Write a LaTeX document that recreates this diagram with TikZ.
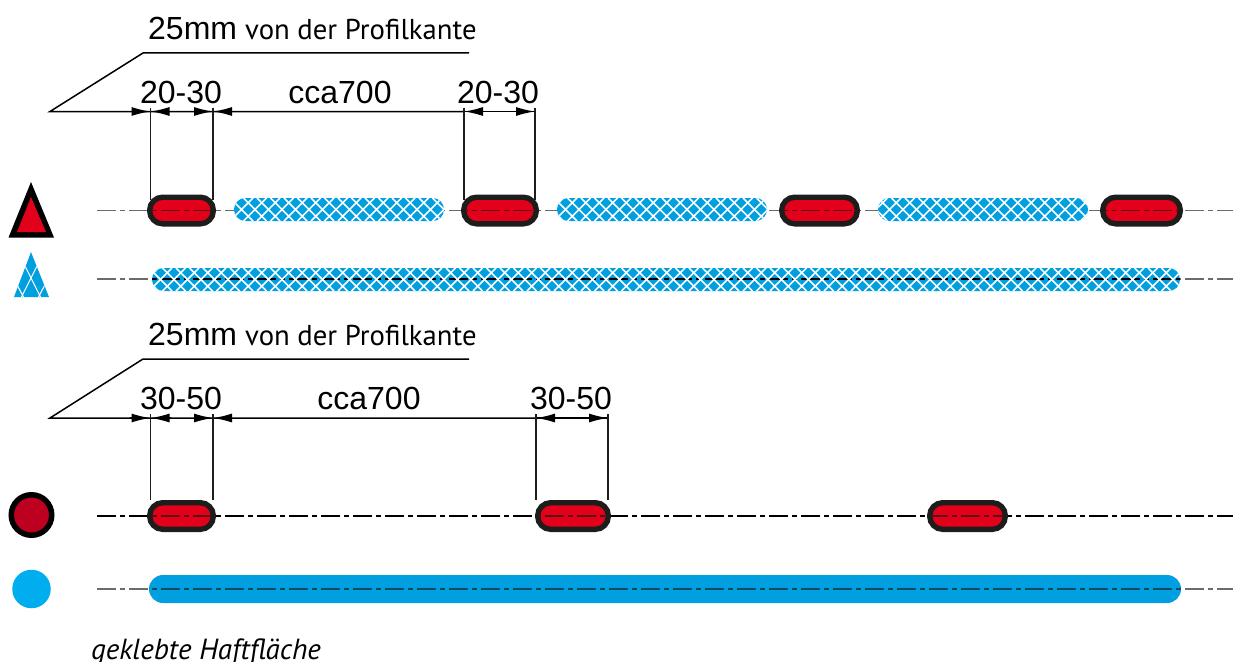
\documentclass[tikz,border=0pt]{standalone}
\usepackage{fontspec}
\setmainfont{Liberation Sans}
\newfontfamily\myriad{PT Sans}
\usetikzlibrary{arrows.meta}
\definecolor{pillred}{HTML}{E2001A}
\definecolor{pillblue}{HTML}{009FE0}
\definecolor{dotblue}{HTML}{00AEEF}
\definecolor{dotred}{HTML}{BE0020}
\definecolor{rim}{HTML}{1D1D1B}
\definecolor{axisred}{HTML}{5A0A14}
\definecolor{axisblue}{HTML}{124A63}
\tikzset{
  x=1pt,y=-1pt,
  dimline/.style={line width=1.5pt,black},
  dimtip/.style={-{Latex[length=19pt,width=9pt,sharp]}},
  extline/.style={line width=1.5pt,rim},
  axisbase/.style={dash pattern=on 18.5pt off 4.5pt on 5pt off 4pt},
  axisgray/.style={axisbase,line width=1.5pt,black!58},
  axisblack/.style={axisbase,line width=1.1pt,black},
  redpill/.style={draw=rim,fill=pillred,line width=5.4pt,rectangle,rounded corners=13pt,inner sep=0pt,outer sep=0pt},
  numlabel/.style={font=\fontsize{32}{36}\selectfont,inner sep=0pt,anchor=base},
  leadlabel/.style={font=\fontsize{32}{36}\selectfont,inner sep=0pt,anchor=base west},
  sublabel/.style={font=\myriad\fontsize{28.7}{32}\selectfont,inner sep=0pt,anchor=base west},
  hatchline/.style={white,line width=1.5pt},
}
\newcommand{\hatchfill}[4]{%
  \pgfmathsetmacro{\hh}{#4-#3}
  \foreach \xx in {-40,-26.5,...,1300}{
    \ifdim \xx pt>\dimexpr #1pt-40pt\relax
    \ifdim \xx pt<\dimexpr #2pt+40pt\relax
      \draw[hatchline] (\xx,#3) -- ++(\hh,\hh);
      \draw[hatchline] (\xx,#4) -- ++(\hh,-\hh);
    \fi\fi
  }
}
\newcommand{\hatchpill}[6]{%
  \fill[pillblue,rounded corners=11.4pt] (#2,#4) rectangle (#3,#5);
  \begin{scope}
    \clip[rounded corners=11.4pt] (#2,#4) rectangle (#3,#5);
    #6
    \hatchfill{#2}{#3}{#4}{#5}
  \end{scope}
  \coordinate (#1) at (#2,#4);
}
\newcommand{\redpillat}[5]{%
  \node[redpill,minimum width=#3pt-#2pt-5.4pt,minimum height=#5pt-#4pt-5.4pt] (#1) at ({(#2+#3)/2},{(#4+#5)/2}) {};
}
\begin{document}
\begin{tikzpicture}
\path[use as bounding box] (0,0) rectangle (1233,661);
\clip (0,0) rectangle (1233,661);
\fill[white] (0,0) rectangle (1233,661);

\coordinate (a1s) at (50,111.5);
\coordinate (a1k) at (143,53);
\coordinate (a1e) at (469,53);
\coordinate (a2s) at (50,418);
\coordinate (a2k) at (143,359);
\coordinate (a2e) at (469,359);
\coordinate (t1a) at (150.5,111.5);
\coordinate (t1b) at (213,111.5);
\coordinate (t1c) at (464,111.5);
\coordinate (t1d) at (535,111.5);
\coordinate (t2a) at (150.5,418);
\coordinate (t2b) at (213,418);
\coordinate (t2c) at (536,418);
\coordinate (t2d) at (608,418);
\coordinate (r1s) at (97,210.5);
\coordinate (r1e) at (1233,210.5);
\coordinate (r2s) at (97,279);
\coordinate (r2e) at (1233,279);
\coordinate (r3s) at (97,516);
\coordinate (r3e) at (1233,516);
\coordinate (r4s) at (97,589);
\coordinate (r4e) at (1233,589);

\node[leadlabel] (head1) at (148,40) {25mm};
\node[sublabel] (sub1) at (245,40) {von der Profilkante};
\node[leadlabel] (head2) at (148,345) {25mm};
\node[sublabel] (sub2) at (245,345) {von der Profilkante};
\node[numlabel] (n1) at (181,103) {20-30};
\node[numlabel] (n2) at (340,103) {cca700};
\node[numlabel] (n3) at (498,103) {20-30};
\node[numlabel] (n4) at (181,409) {30-50};
\node[numlabel] (n5) at (369,409) {cca700};
\node[numlabel] (n6) at (571,409) {30-50};
\node[anchor=base west,inner sep=0pt,font=\myriad\itshape\fontsize{29.1}{32}\selectfont] (cap) at (91,659) {geklebte Haftfläche};

\draw[dimline,line join=miter] (a1e) -- (a1k) -- (a1s) -- (t1c);
\draw[dimline,line join=miter] (a2e) -- (a2k) -- (a2s) -- (t2c);
\draw[dimline] (t1c) -- (t1d);
\draw[dimline] (t2c) -- (t2d);
\foreach \p in {t1a,t1b,t1c,t1d}{\draw[extline] (\p) ++(0,-4) -- ++(0,92);}
\foreach \p in {t2a,t2b,t2c,t2d}{\draw[extline] (\p) ++(0,-4) -- ++(0,86);}
\draw[dimline,dimtip] ([xshift=-21pt]t1a) -- (t1a);
\draw[dimline,dimtip] ([xshift=20pt]t1a) -- (t1a);
\draw[dimline,dimtip] ([xshift=-18pt]t1b) -- (t1b);
\draw[dimline,dimtip] ([xshift=19pt]t1b) -- (t1b);
\draw[dimline,dimtip] ([xshift=20pt]t1c) -- (t1c);
\draw[dimline,dimtip] ([xshift=-20pt]t1d) -- (t1d);
\draw[dimline,dimtip] ([xshift=-21pt]t2a) -- (t2a);
\draw[dimline,dimtip] ([xshift=20pt]t2a) -- (t2a);
\draw[dimline,dimtip] ([xshift=-18pt]t2b) -- (t2b);
\draw[dimline,dimtip] ([xshift=19pt]t2b) -- (t2b);
\draw[dimline,dimtip] ([xshift=20pt]t2c) -- (t2c);
\draw[dimline,dimtip] ([xshift=-20pt]t2d) -- (t2d);

\draw[axisgray] (r1s) -- (r1e);
\draw[axisgray] (r2s) -- (r2e);
\draw[axisblack] (r3s) -- (r3e);
\draw[axisgray] (r4s) -- (r4e);

\hatchpill{h1}{234}{444}{198}{221}{}
\hatchpill{h2}{557}{767}{198}{221}{}
\hatchpill{h3}{878}{1088}{198}{221}{}
\redpillat{p1}{147}{216}{194.5}{226.5}
\redpillat{p2}{461}{539}{194.5}{226.5}
\redpillat{p3}{779}{860}{194.5}{226.5}
\redpillat{p4}{1100}{1183}{194.5}{226.5}
\begin{scope}
  \clip (152,199) rectangle (211,222) (466,199) rectangle (534,222) (784,199) rectangle (855,222) (1105,199) rectangle (1178,222);
  \draw[axisgray,axisred] (r1s) -- (r1e);
\end{scope}
\hatchpill{h4}{152}{1180}{268}{291}{\draw[axisblack] (r2s) -- (r2e);}
\redpillat{p5}{147}{216}{500}{532}
\redpillat{p6}{535}{611}{500}{532}
\redpillat{p7}{927}{1008}{500}{532}
\begin{scope}
  \clip (152,505) rectangle (211,527) (540,505) rectangle (606,527) (932,505) rectangle (1003,527);
  \draw[axisblack,axisred] (r3s) -- (r3e);
\end{scope}
\fill[pillblue,rounded corners=14pt] (149,575) rectangle (1181,603);
\begin{scope}
  \clip (149,575) rectangle (1181,603);
  \draw[axisgray,axisblue] (r4s) -- (r4e);
\end{scope}

\fill[black] (31,182) -- (54,237.5) -- (8.5,237.5) -- cycle;
\fill[pillred] (31,197) -- (46,232) -- (17,232) -- cycle;
\begin{scope}
  \clip (31,252) -- (49,297) -- (14,297) -- cycle;
  \fill[pillblue] (10,250) rectangle (52,298);
  \draw[white,line width=1.1pt] (25,266) -- (41,298);
  \draw[white,line width=1.1pt] (37,266) -- (21,298);
  \draw[white,line width=1.1pt] (14,279) -- (24,298);
  \draw[white,line width=1.1pt] (48,279) -- (38,298);
\end{scope}
\node[circle,draw=black,fill=dotred,line width=5.5pt,minimum size=40.5pt,inner sep=0pt] (ic3) at (31.5,515) {};
\node[circle,fill=dotblue,minimum size=38.5pt,inner sep=0pt] (ic4) at (31.5,589) {};
\end{tikzpicture}
\end{document}
